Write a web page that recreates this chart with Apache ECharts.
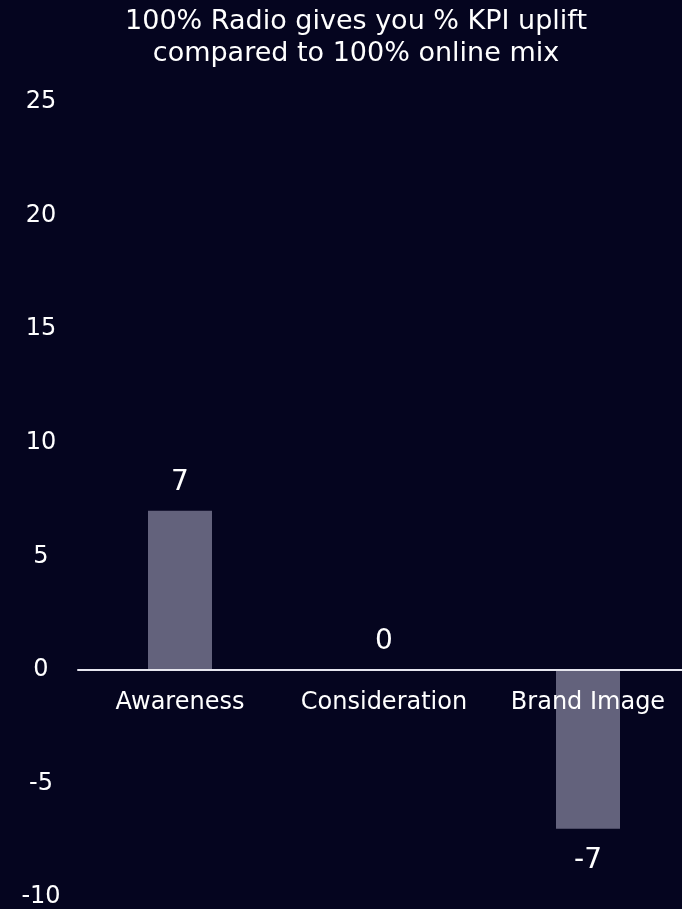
<!DOCTYPE html>
<html>
<head>
<meta charset="utf-8">
<script src="https://cdn.jsdelivr.net/npm/echarts@6/dist/echarts.min.js"></script>
<style>
  html, body { margin: 0; padding: 0; background: #05051f; }
  #chart { width: 682px; height: 909px; }
</style>
</head>
<body>
<div id="chart"></div>
<script>
// KPI uplift of a 100% radio plan versus a 100% online mix
const categories = ['Awareness', 'Consideration', 'Brand Image'];
const uplift = [7, 0, -7];
const titleLines = ['100% Radio gives you % KPI uplift', 'compared to 100% online mix'];

const FONT = 'DejaVu Sans';
const chart = echarts.init(document.getElementById('chart'));

// Value labels sit above positive bars and below negative ones
const barData = uplift.map(v => ({
  value: v,
  label: { position: v < 0 ? 'bottom' : 'top', distance: v < 0 ? 18 : 14 }
}));

const option = {
  backgroundColor: '#05051f',
  animation: false,
  title: {
    text: titleLines.join('\n'),
    left: 351,
    textAlign: 'center',
    top: 1,
    textStyle: { color: '#ffffff', fontFamily: FONT, fontSize: 27, fontWeight: 'normal', lineHeight: 32 }
  },
  grid: { left: 78, right: -8, top: 102, bottom: 12, outerBoundsMode: 'none', containLabel: false },
  xAxis: {
    type: 'category',
    data: categories,
    z: 10,
    offset: 0,
    axisLine: { onZero: false, lineStyle: { color: '#e6e6ee', width: 2 } },
    axisTick: { show: false },
    axisLabel: { color: '#ffffff', fontFamily: FONT, fontSize: 24, margin: 21, interval: 0, hideOverlap: false }
  },
  yAxis: {
    type: 'value',
    min: -10,
    max: 25,
    interval: 5,
    splitLine: { show: false },
    axisLine: { show: false },
    axisTick: { show: false },
    axisLabel: { color: '#ffffff', fontFamily: FONT, fontSize: 24, margin: 37, align: 'center' }
  },
  series: [{
    type: 'bar',
    data: barData,
    barWidth: 64,
    itemStyle: { color: '#63627c' },
    label: {
      show: true,
      color: '#ffffff',
      fontFamily: FONT,
      fontSize: 28
    }
  }]
};
chart.setOption(option);

// Lift the category axis (line and labels) up to the zero value
const zeroY = chart.convertToPixel({ yAxisIndex: 0 }, 0);
const bottomY = chart.convertToPixel({ yAxisIndex: 0 }, -10);
chart.setOption({ xAxis: { offset: zeroY - bottomY } });
</script>
</body>
</html>
